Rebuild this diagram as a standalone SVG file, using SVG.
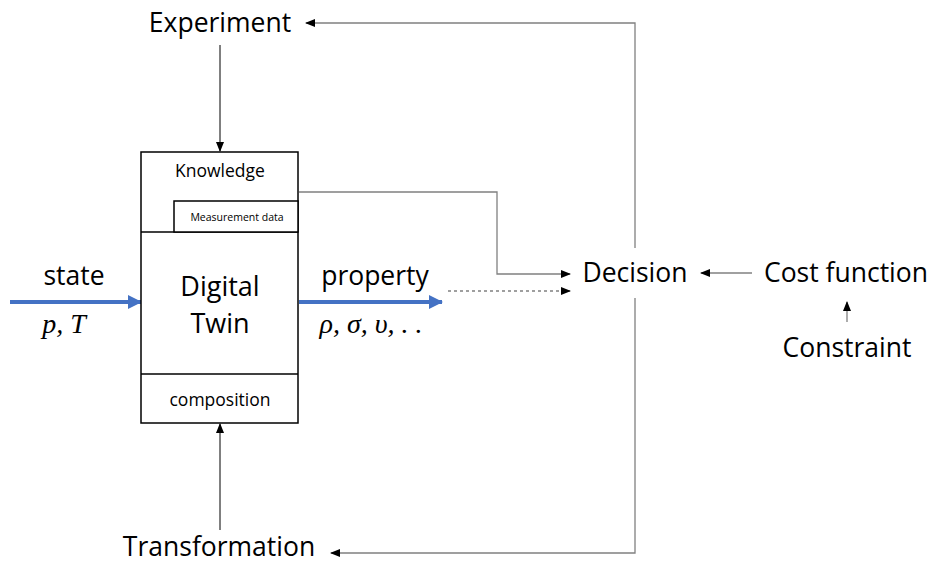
<svg xmlns="http://www.w3.org/2000/svg" width="929" height="565" viewBox="0 0 929 565">
<style>
text{font-family:"Open Sans","Liberation Sans",sans-serif;fill:#000}
.lbl{font-size:26.5px}
.math{font-family:"Liberation Serif","DejaVu Serif",serif;font-style:italic;font-size:28px}
.box{fill:#fff;stroke:#000;stroke-width:1.5}
.ln{fill:none;stroke:#808080;stroke-width:1.3}
.blk{fill:none;stroke:#000;stroke-width:1}
.blue{fill:none;stroke:#4472C4;stroke-width:4}
</style>
<defs>
<marker id="ah" markerWidth="10" markerHeight="8" refX="9" refY="4" orient="auto" markerUnits="userSpaceOnUse"><path d="M0,0 L10,4 L0,8 Z" fill="#000"/></marker>
<marker id="bh" markerWidth="14" markerHeight="14" refX="13" refY="7" orient="auto" markerUnits="userSpaceOnUse"><path d="M0,0 L14,7 L0,14 Z" fill="#4472C4"/></marker>
</defs>
<g id="connectors">
<path class="blk" d="M220,45 V151" marker-end="url(#ah)"/>
<path class="blk" d="M220,530 V424" marker-end="url(#ah)"/>
<path class="ln" d="M635,248 V23 H306" marker-end="url(#ah)"/>
<path class="ln" d="M635,298 V553 H331" marker-end="url(#ah)"/>
<path class="ln" d="M299,192 H497 V274 H570" marker-end="url(#ah)"/>
<path class="ln" d="M448,291 H570" stroke-dasharray="3,3" marker-end="url(#ah)"/>
<path class="ln" d="M752,273 H701" marker-end="url(#ah)"/>
<path class="ln" d="M847,322 V302" marker-end="url(#ah)"/>
<path class="blue" d="M10,302 H141" marker-end="url(#bh)"/>
<path class="blue" d="M299,302 H442" marker-end="url(#bh)"/>
</g>
<g id="twin">
<rect class="box" x="141" y="152" width="157" height="271"/>
<line class="box" x1="141" y1="232" x2="298" y2="232"/>
<line class="box" x1="141" y1="374" x2="298" y2="374"/>
<text x="220" y="177" font-size="17.5" text-anchor="middle">Knowledge</text>
<text x="220" y="296" font-size="27" text-anchor="middle">Digital</text>
<text x="220" y="333" font-size="27" text-anchor="middle">Twin</text>
<text x="220" y="406" font-size="17.5" text-anchor="middle">composition</text>
</g>
<g id="measurement">
<rect class="box" x="174" y="201" width="124" height="31"/>
<text x="237" y="221" font-size="10.5" text-anchor="middle">Measurement data</text>
</g>
<g id="experiment"><text class="lbl" x="220" y="32" text-anchor="middle">Experiment</text></g>
<g id="transformation"><text class="lbl" x="219" y="556" text-anchor="middle">Transformation</text></g>
<g id="decision"><text class="lbl" x="635" y="282" text-anchor="middle">Decision</text></g>
<g id="cost"><text class="lbl" x="846" y="282" text-anchor="middle">Cost function</text></g>
<g id="constraint"><text class="lbl" x="847" y="357" text-anchor="middle">Constraint</text></g>
<g id="state">
<text class="lbl" x="74" y="285" text-anchor="middle">state</text>
<text class="math" x="64" y="333" text-anchor="middle">p, T</text>
</g>
<g id="property">
<text class="lbl" x="375" y="285" text-anchor="middle">property</text>
<text class="math" x="371" y="333" text-anchor="middle">ρ, σ, υ, . .</text>
</g>
</svg>
